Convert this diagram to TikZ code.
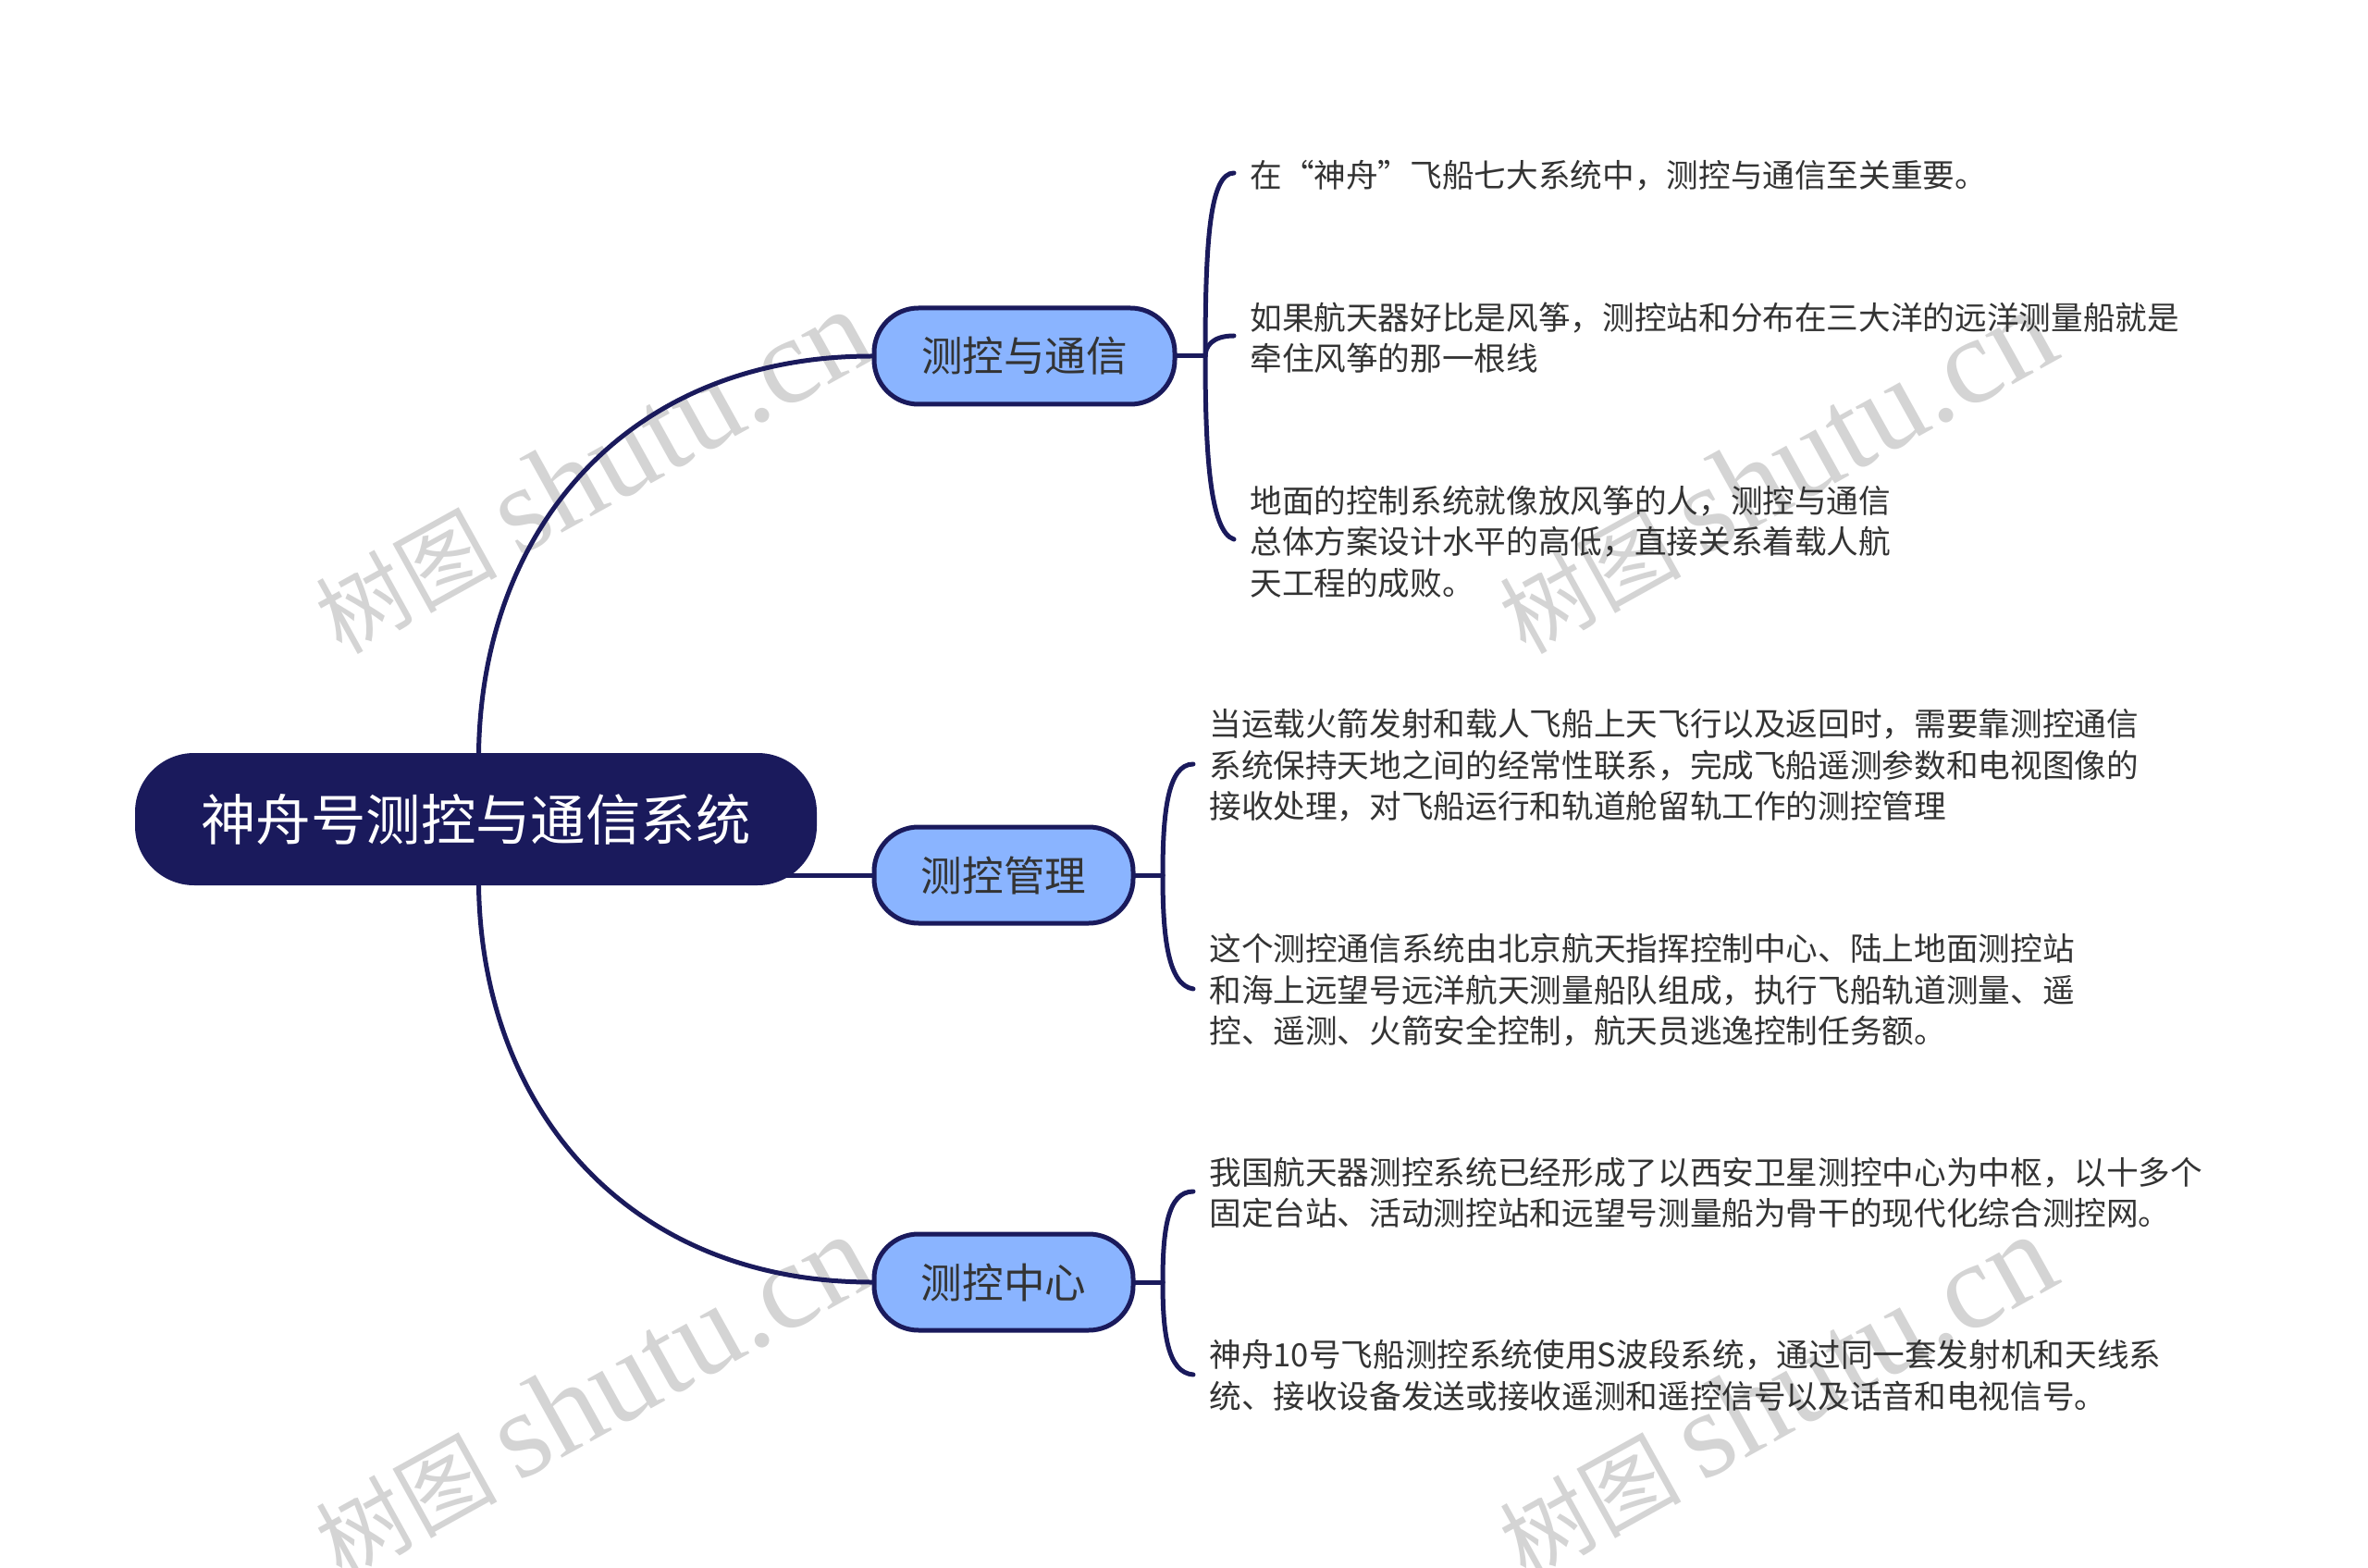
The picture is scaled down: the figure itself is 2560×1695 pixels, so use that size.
\documentclass[tikz,border=0pt]{standalone}
\usepackage{fontspec}
\setmainfont{Noto Sans CJK SC}
\newfontfamily\wmlatin{Liberation Serif}
\usetikzlibrary{backgrounds}
\definecolor{navy}{HTML}{1A1A5C}
\definecolor{sky}{HTML}{8AB4FF}
\definecolor{ink}{HTML}{333333}
\definecolor{wm}{HTML}{D4D4D4}
\tikzset{
  rootbox/.style={fill=navy,text=white,rounded corners=32pt,minimum width=368.5pt,minimum height=71.5pt,inner sep=0pt,font=\fontsize{29.7}{36}\selectfont},
  branchbox/.style={draw=navy,line width=2.5pt,fill=sky,text=ink,rounded corners=24pt,minimum height=52pt,inner sep=0pt,font=\fontsize{22.3}{27}\selectfont},
  leaf/.style={anchor=west,align=left,inner ysep=0pt,inner xsep=8.5pt,text=ink,font=\fontsize{17.32}{22.25}\selectfont},
  link/.style={draw=navy,line width=2.5pt,line cap=round},
  watermark/.style={text=wm,rotate=29,inner sep=0pt,font=\fontsize{49}{53}\selectfont}
}
\begin{document}
\begin{tikzpicture}[x=0.5pt,y=-0.5pt]
\useasboundingbox (0,0) rectangle (2560,1695);
\node[rootbox] (root) at (514.5,885.5) {神舟号测控与通信系统};
\node[branchbox,minimum width=162.5pt] (b1) at (1107.5,385) {测控与通信};
\node[branchbox,minimum width=140pt] (b2) at (1085,946) {测控管理};
\node[branchbox,minimum width=140pt] (b3) at (1085,1386) {测控中心};
\node[leaf] (t11) at (1334,190) {在“神舟”飞船七大系统中，测控与通信至关重要。};
\node[leaf] (t12) at (1334,365) {如果航天器好比是风筝，测控站和分布在三大洋的远洋测量船就是\\牵住风筝的那一根线};
\node[leaf] (t13) at (1334,585.5) {地面的控制系统就像放风筝的人，测控与通信\\总体方案设计水平的高低，直接关系着载人航\\天工程的成败。};
\node[leaf] (t21) at (1290,827.5) {当运载火箭发射和载人飞船上天飞行以及返回时，需要靠测控通信\\系统保持天地之间的经常性联系，完成飞船遥测参数和电视图像的\\接收处理，对飞船运行和轨道舱留轨工作的测控管理};
\node[leaf] (t22) at (1290,1070.5) {这个测控通信系统由北京航天指挥控制中心、陆上地面测控站\\和海上远望号远洋航天测量船队组成，执行飞船轨道测量、遥\\控、遥测、火箭安全控制，航天员逃逸控制任务额。};
\node[leaf] (t31) at (1290,1289) {我国航天器测控系统已经形成了以西安卫星测控中心为中枢，以十多个\\固定台站、活动测控站和远望号测量船为骨干的现代化综合测控网。};
\node[leaf] (t32) at (1290,1487) {神舟10号飞船测控系统使用S波段系统，通过同一套发射机和天线系\\统、接收设备发送或接收遥测和遥控信号以及话音和电视信号。};
\begin{scope}[on background layer]
\node[watermark] (w1) at (640,510) {树图 {\wmlatin\fontsize{66.5}{70}\selectfont shutu.cn}};
\node[watermark] (w2) at (1920,510) {树图 {\wmlatin\fontsize{66.5}{70}\selectfont shutu.cn}};
\node[watermark] (w3) at (640,1510) {树图 {\wmlatin\fontsize{66.5}{70}\selectfont shutu.cn}};
\node[watermark] (w4) at (1920,1510) {树图 {\wmlatin\fontsize{66.5}{70}\selectfont shutu.cn}};
\coordinate (r1) at ([xshift=1.5pt]root.north);
\coordinate (r3) at ([xshift=1.5pt]root.south);
\draw[link] (r1) .. controls (521,570) and (680,385) .. (b1.west);
\draw[link] (r3) .. controls (521,1200) and (680,1386) .. (b3.west);
\draw[link] (root.center |- b2.west) -- (b2.west);
\coordinate (j1) at (1303,385);
\coordinate (j2) at (1257,946);
\coordinate (j3) at (1257,1386);
\draw[link] (b1.east) -- (j1);
\draw[link] (b2.east) -- (j2);
\draw[link] (b3.east) -- (j3);
\draw[link] (j1) .. controls (1303,260) and (1308,187) .. ([yshift=1.5pt]t11.west);
\draw[link] (j1) .. controls (1303,375) and (1310,363) .. ([yshift=1pt]t12.west);
\draw[link] (j1) .. controls (1303,490) and (1308,575) .. ([yshift=1.25pt]t13.west);
\draw[link] (j2) .. controls (1257,880) and (1262,826) .. ([yshift=0.75pt]t21.west);
\draw[link] (j2) .. controls (1257,1010) and (1262,1065) .. ([yshift=0.75pt]t22.west);
\draw[link] (j3) .. controls (1257,1330) and (1262,1288) .. ([yshift=0.5pt]t31.west);
\draw[link] (j3) .. controls (1257,1440) and (1262,1484) .. ([yshift=0.5pt]t32.west);
\end{scope}
\end{tikzpicture}
\end{document}
